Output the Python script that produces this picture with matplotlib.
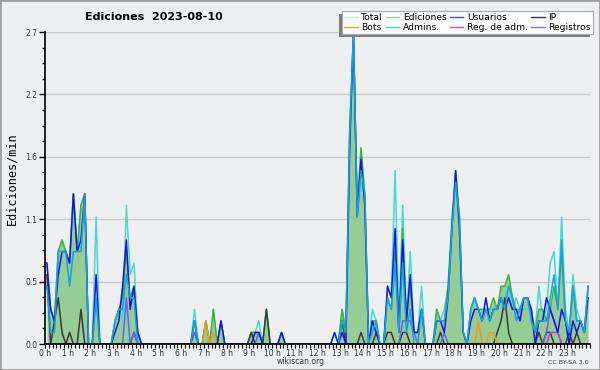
import numpy as np
import matplotlib.pyplot as plt
from matplotlib.lines import Line2D
from matplotlib.patches import Rectangle

# ediciones por bloque de 10 minutos (144 bloques, 12 por linea = 2 horas)
total = [7, 3, 2, 8, 9, 8, 7, 13, 8, 12, 13, 0,
         0, 11, 0, 0, 0, 0, 2, 3, 2, 12, 6, 7,
         1, 0, 0, 0, 0, 0, 0, 0, 0, 0, 0, 0,
         0, 0, 0, 3, 0, 0, 2, 0, 3, 0, 2, 0,
         0, 0, 0, 0, 0, 0, 1, 1, 2, 0, 3, 0,
         0, 0, 1, 0, 0, 0, 0, 0, 0, 0, 0, 0,
         0, 0, 0, 0, 1, 0, 3, 1, 19, 27, 11, 14,
         13, 0, 3, 2, 0, 0, 5, 4, 15, 2, 12, 2,
         8, 1, 1, 5, 0, 0, 0, 3, 2, 3, 5, 11,
         14, 10, 1, 0, 3, 4, 3, 2, 3, 3, 3, 3,
         4, 4, 5, 3, 4, 3, 3, 3, 3, 1, 5, 2,
         3, 7, 8, 3, 11, 3, 1, 6, 3, 2, 1, 5]
ediciones = [5, 3, 2, 8, 9, 8, 7, 13, 8, 12, 13, 0,
             0, 4, 0, 0, 0, 0, 2, 3, 4, 8, 4, 5,
             1, 0, 0, 0, 0, 0, 0, 0, 0, 0, 0, 0,
             0, 0, 0, 1, 0, 0, 2, 0, 3, 0, 2, 0,
             0, 0, 0, 0, 0, 0, 1, 1, 1, 0, 3, 0,
             0, 0, 1, 0, 0, 0, 0, 0, 0, 0, 0, 0,
             0, 0, 0, 0, 0, 0, 3, 1, 18, 26, 12, 17,
             13, 0, 2, 2, 0, 0, 4, 3, 8, 1, 10, 2,
             5, 1, 1, 3, 0, 0, 0, 3, 2, 2, 5, 10,
             15, 11, 1, 0, 3, 4, 3, 3, 3, 3, 4, 3,
             5, 5, 6, 4, 3, 3, 4, 4, 3, 1, 3, 3,
             2, 3, 5, 3, 8, 2, 1, 5, 2, 2, 1, 5]
usuarios = [7, 3, 2, 6, 8, 8, 7, 13, 8, 9, 13, 0,
            0, 6, 0, 0, 0, 0, 1, 2, 5, 9, 3, 5,
            1, 0, 0, 0, 0, 0, 0, 0, 0, 0, 0, 0,
            0, 0, 0, 2, 0, 0, 0, 0, 0, 0, 2, 0,
            0, 0, 0, 0, 0, 0, 0, 1, 1, 0, 0, 0,
            0, 0, 1, 0, 0, 0, 0, 0, 0, 0, 0, 0,
            0, 0, 0, 0, 1, 0, 1, 0, 17, 27, 11, 16,
            12, 0, 2, 1, 0, 0, 5, 4, 10, 1, 9, 2,
            6, 1, 1, 3, 0, 0, 0, 2, 2, 1, 4, 10,
            15, 10, 1, 0, 2, 3, 3, 2, 4, 2, 3, 3,
            4, 3, 4, 3, 3, 2, 4, 4, 3, 0, 2, 2,
            4, 3, 2, 1, 3, 2, 0, 2, 1, 2, 1, 4]
admins = [5, 1, 1, 8, 8, 8, 5, 8, 8, 8, 13, 0,
          0, 4, 0, 0, 0, 0, 2, 3, 3, 6, 4, 4,
          0, 0, 0, 0, 0, 0, 0, 0, 0, 0, 0, 0,
          0, 0, 0, 2, 0, 0, 0, 0, 0, 0, 0, 0,
          0, 0, 0, 0, 0, 0, 0, 0, 0, 0, 0, 0,
          0, 0, 0, 0, 0, 0, 0, 0, 0, 0, 0, 0,
          0, 0, 0, 0, 0, 0, 2, 1, 18, 27, 11, 15,
          13, 0, 1, 2, 0, 0, 4, 3, 7, 1, 7, 1,
          3, 0, 0, 3, 0, 0, 0, 2, 2, 2, 4, 10,
          14, 11, 1, 0, 3, 4, 3, 2, 3, 2, 3, 3,
          4, 3, 5, 4, 2, 3, 4, 4, 2, 1, 2, 2,
          2, 4, 6, 3, 9, 2, 1, 5, 2, 2, 1, 5]
ip = [6, 0, 2, 4, 1, 0, 1, 0, 0, 3, 0, 0,
      0, 0, 0, 0, 0, 0, 0, 0, 0, 0, 0, 1,
      0, 0, 0, 0, 0, 0, 0, 0, 0, 0, 0, 0,
      0, 0, 0, 0, 0, 0, 0, 0, 0, 0, 0, 0,
      0, 0, 0, 0, 0, 0, 1, 0, 0, 0, 3, 0,
      0, 0, 0, 0, 0, 0, 0, 0, 0, 0, 0, 0,
      0, 0, 0, 0, 0, 0, 2, 0, 0, 0, 0, 1,
      0, 0, 0, 1, 0, 0, 1, 1, 0, 0, 1, 1,
      0, 0, 0, 0, 0, 0, 0, 0, 1, 0, 0, 0,
      0, 0, 0, 0, 0, 0, 0, 0, 0, 0, 0, 1,
      2, 4, 1, 0, 0, 0, 0, 0, 0, 0, 1, 0,
      1, 1, 0, 0, 0, 0, 1, 0, 1, 0, 0, 0]
bots = [0] * 144
bots[42], bots[44], bots[114], bots[117], bots[118] = 2, 1, 2, 1, 1
registros = [0] * 144
for i, v in [(21, 4), (23, 1), (39, 1), (56, 1), (94, 2), (95, 2), (96, 2),
             (97, 1), (105, 1), (132, 1), (133, 3), (134, 2), (135, 1)]:
    registros[i] = v
reg_adm = [0] * 144
reg_adm[133], reg_adm[134], reg_adm[135] = 1, 1, 1

hour_labels = ['%d h' % h for h in range(24)]
y_ticks = [0.0, 0.54, 1.08, 1.62, 2.16, 2.7]

x = (np.arange(144) + 0.5) / 6.0
bg = '#eeeff1'

fig = plt.figure(figsize=(6, 3.7), dpi=100, facecolor=bg)
ax = fig.add_axes([45 / 600, 26 / 370, 545 / 600, 312 / 370])
ax.set_facecolor(bg)
ax.set_xlim(0, 24)
ax.set_ylim(0, 2.7)

for v in y_ticks[1:]:
    ax.axhline(v, color='#c9c9c9', lw=1, zorder=0.5)

ed = np.array(ediciones) / 10
ax.fill_between(x, ed, color='#95cd95', lw=0, zorder=1)

series = [
    (total, '#48d8d0', 2.0),
    (ediciones, '#3cb43c', 2.1),
    (ip, '#3a3a3a', 2.2),
    (bots, '#f29a1a', 2.2),
    (registros, '#6464f0', 2.3),
    (reg_adm, '#c23ad6', 2.3),
    (usuarios, '#1414e6', 2.4),
    (admins, '#1a9fe0', 2.5),
]
for vals, col, z in series:
    ax.plot(x, np.array(vals) / 10, color=col, lw=1.1, zorder=z)

ax.set_yticks(y_ticks)
ax.set_yticklabels(['%.1f' % v for v in y_ticks])
ax.set_yticks(np.arange(21) * 0.135, minor=True)
ax.set_xticks(range(24))
ax.set_xticklabels(hour_labels)
ax.set_xticks(np.arange(145) / 6, minor=True)
ax.tick_params(axis='y', which='major', length=4, width=1, pad=1.5,
               labelsize=5.5, labelcolor='#333333')
ax.tick_params(axis='y', which='minor', length=2.5, width=1)
ax.tick_params(axis='x', which='both', length=3, width=0.8, pad=0.5,
               labelsize=5.5, labelcolor='#333333')
for s in ['top', 'right']:
    ax.spines[s].set_visible(False)
for s in ['left', 'bottom']:
    ax.spines[s].set_linewidth(1.2)
    ax.spines[s].set_zorder(3)

names = ['Total', 'Bots', 'Ediciones', 'Admins.', 'Usuarios',
         'Reg. de adm.', 'IP', 'Registros']
leg_colors = ['#b0ecea', '#f5a030', '#90d890', '#48c8e8', '#4848e8',
              '#d050e0', '#383838', '#7878f0']
handles = [Line2D([], [], color=c, lw=1) for c in leg_colors]
leg = fig.legend(handles, names, ncol=4, loc='upper right',
                 bbox_to_anchor=(593 / 600, 1 - 11 / 370), fontsize=6.6,
                 frameon=True, fancybox=False, framealpha=1,
                 facecolor='#fcfcfc', edgecolor='#a8a8a8',
                 borderpad=0.25, labelspacing=0.05, handlelength=1.5,
                 handletextpad=0.4, columnspacing=0.3, borderaxespad=0)
leg.get_frame().set_linewidth(0.8)
leg.set_zorder(6)

# sombra del recuadro de la leyenda, desplazada a la izquierda y abajo
fig.canvas.draw()
bb = leg.get_window_extent().transformed(fig.transFigure.inverted())
fig.patches.append(Rectangle((bb.x0 - 3 / 600, bb.y0 - 3 / 370), bb.width, bb.height,
                             transform=fig.transFigure, facecolor='#7e7e7e',
                             edgecolor='none', zorder=5))

fig.text(85 / 600, 1 - 17 / 370, 'Ediciones  2023-08-10', fontsize=8,
         fontweight='bold', ha='left', va='center')
fig.text(12 / 600, 1 - 179 / 370, 'Ediciones/min', rotation=90,
         family='DejaVu Sans Mono', fontsize=8.5, ha='center', va='center')
fig.text(301 / 600, 1 - 361 / 370, 'wikiscan.org', fontsize=5.5,
         color='#333333', ha='center', va='center')
fig.text(589 / 600, 1 - 362 / 370, 'CC BY-SA 3.0', fontsize=4.6,
         color='#333333', ha='right', va='center')
fig.patches.append(Rectangle((0, 0), 1, 1, transform=fig.transFigure,
                             fill=False, edgecolor='#a0a0a0', lw=2))

fig.savefig('out.png', dpi=100, facecolor=bg)
